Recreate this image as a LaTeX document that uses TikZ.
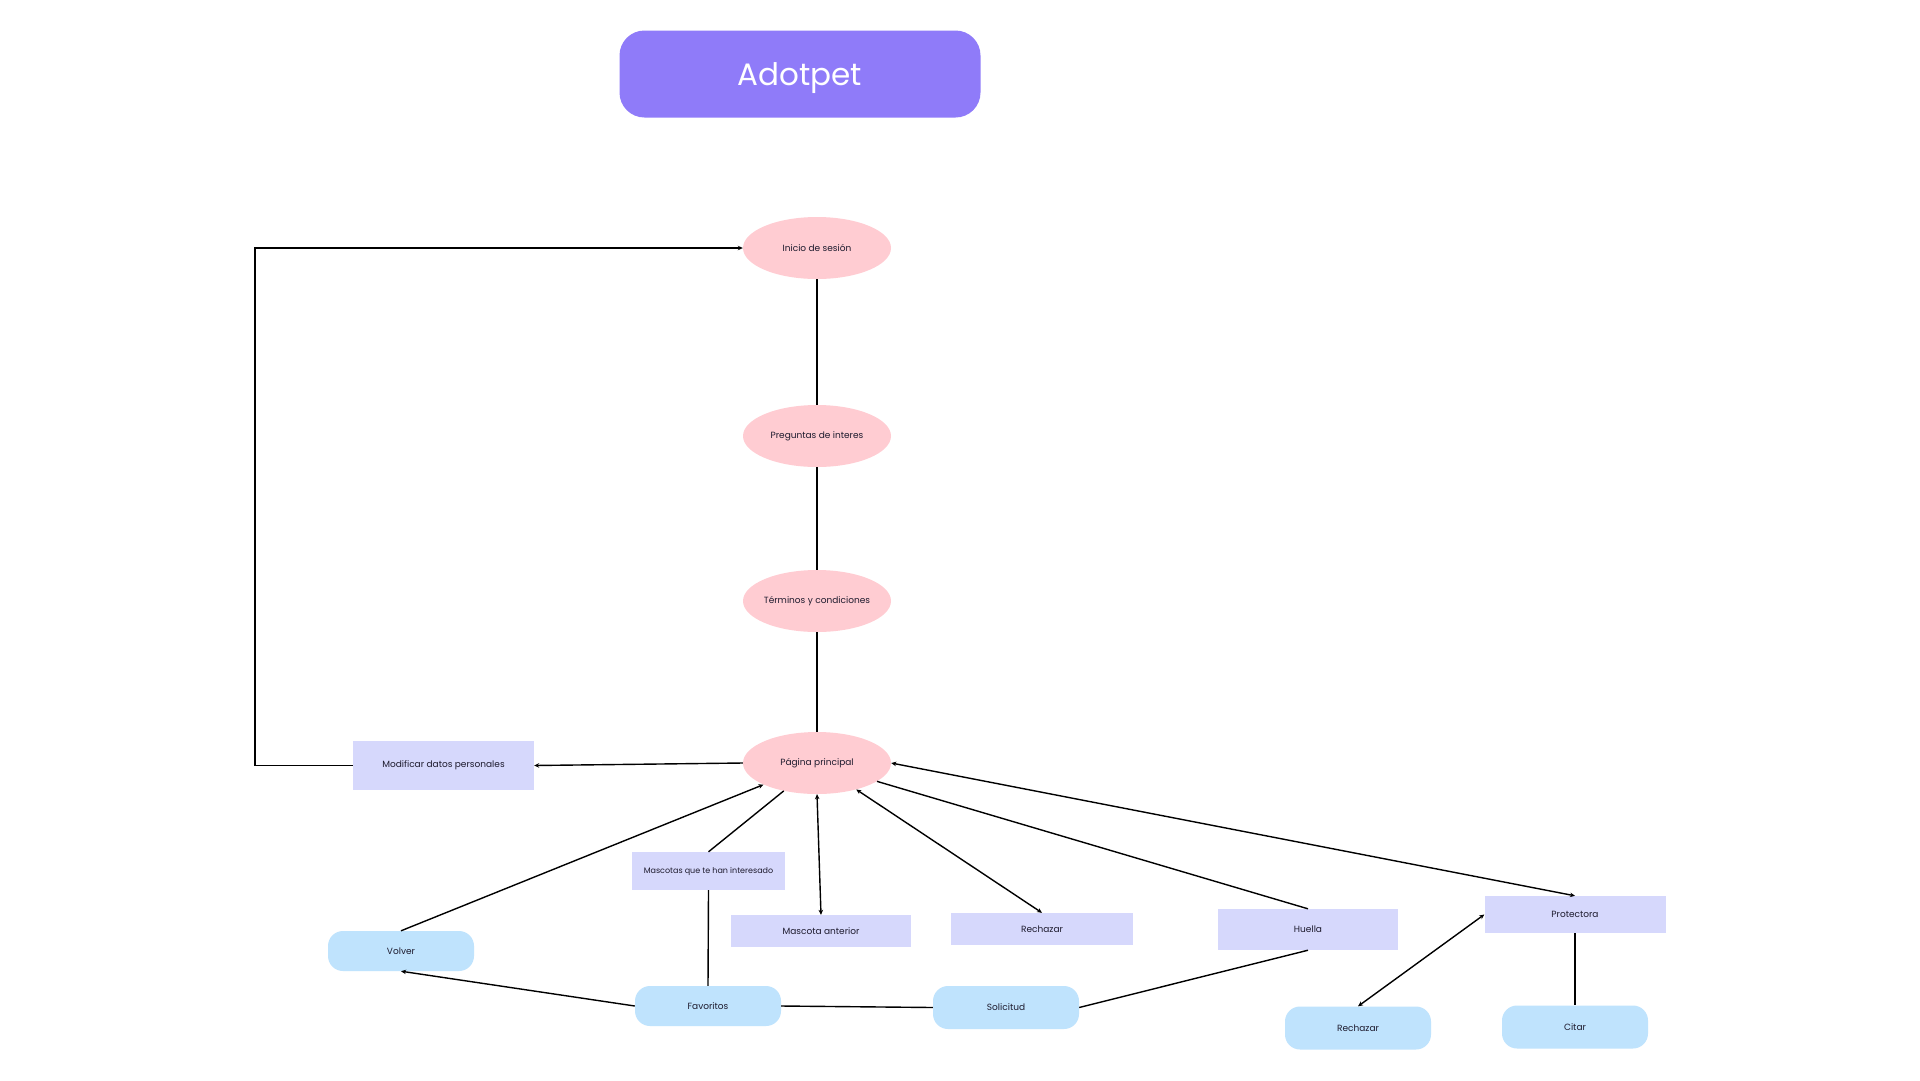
\documentclass[tikz,border=0pt]{standalone}
\usepackage{fontspec}
\setmainfont{Poppins}
\usetikzlibrary{shapes.geometric,arrows.meta}
\definecolor{titlefill}{HTML}{8F7BF9}
\definecolor{pinkfill}{HTML}{FFCCD2}
\definecolor{lilacfill}{HTML}{D6D8FC}
\definecolor{bluefill}{HTML}{BFE3FD}
\definecolor{inkcol}{HTML}{1E1B2E}
\begin{document}
\begin{tikzpicture}[x=1pt,y=-1pt,
  every node/.style={text=inkcol, inner sep=0pt},
  titlebox/.style={fill=titlefill, rounded corners=25pt, minimum width=361pt, minimum height=87pt,
    text height=22pt, text depth=0pt, text=white, font=\fontsize{31}{36}\selectfont},
  screen/.style={ellipse, fill=pinkfill, minimum width=148pt, minimum height=62pt, inner xsep=-4pt,
    font=\fontsize{9}{11}\selectfont},
  section/.style={fill=lilacfill, font=\fontsize{9}{11}\selectfont},
  action/.style={fill=bluefill, rounded corners=15pt, minimum width=146pt, minimum height=42pt,
    font=\fontsize{9}{11}\selectfont},
  link/.style={draw=black, line width=1.4pt},
  arr/.style={link, -{Stealth[length=5pt,width=4.5pt]}},
  darr/.style={link, {Stealth[length=5pt,width=4.5pt]}-{Stealth[length=5pt,width=4.5pt]}}
]
\useasboundingbox[fill=white] (0,0) rectangle (1920,1080);

% title
\node[titlebox] (title) at (800,74) {Adotpet};

% main screens
\node[screen] (inicio) at (817,248) {Inicio de sesión};
\node[screen] (preg)   at (817,436) {Preguntas de interes};
\node[screen] (term)   at (817,601) {Términos y condiciones};
\node[screen] (pag)    at (817,763) {Página principal};

% sections
\node[section, minimum width=181pt, minimum height=49pt] (modif) at (443.5,765.5) {Modificar datos personales};
\node[section, minimum width=153pt, minimum height=38pt, font=\fontsize{8}{10}\selectfont] (masc) at (708.5,871) {Mascotas que te han interesado};
\node[section, minimum width=180pt, minimum height=32pt] (mant)   at (821,931)    {Mascota anterior};
\node[section, minimum width=182pt, minimum height=32pt] (rech1)  at (1042,929)   {Rechazar};
\node[section, minimum width=180pt, minimum height=41pt] (huella) at (1308,929.5) {Huella};
\node[section, minimum width=181pt, minimum height=37pt] (prot)   at (1575,914.5) {Protectora};

% actions
\node[action, minimum height=40pt] (volver) at (401,951)    {Volver};
\node[action, minimum height=40pt] (fav)    at (708,1006)   {Favoritos};
\node[action, minimum height=43pt] (sol)    at (1006,1007.5){Solicitud};
\node[action, minimum height=43pt] (rech2)  at (1358,1028)  {Rechazar};
\node[action, minimum height=43pt] (citar)  at (1575,1027)  {Citar};

% main flow
\draw[link] (inicio.south) -- (preg.north);
\draw[link] (preg.south) -- (term.north);
\draw[link] (term.south) -- (pag.north);

% personal data loop back to login
\coordinate (loopcorner) at (255,765.5);
\draw[arr] (pag.west) -- (modif.east);
\draw[arr] (modif.west) -- (loopcorner) |- (inicio.west);

% links from the main page
\draw[arr]  (volver.north) -- (pag.202.5);
\draw[link] (pag.220) -- (masc.north);
\draw[darr] (pag.south) -- (mant.north);
\draw[darr] (pag.326.6) -- (rech1.north);
\draw[link] (pag.343.8) -- (huella.north);
\draw[darr] (pag.east) -- (prot.north);

% lower links
\draw[link] (masc.south) -- (fav.north);
\draw[arr]  (fav.west) -- (volver.south);
\draw[link] (fav.east) -- (sol.west);
\draw[link] (sol.east) -- (huella.south);
\draw[darr] (prot.west) -- (rech2.north);
\draw[link] (prot.south) -- (citar.north);
\end{tikzpicture}
\end{document}
